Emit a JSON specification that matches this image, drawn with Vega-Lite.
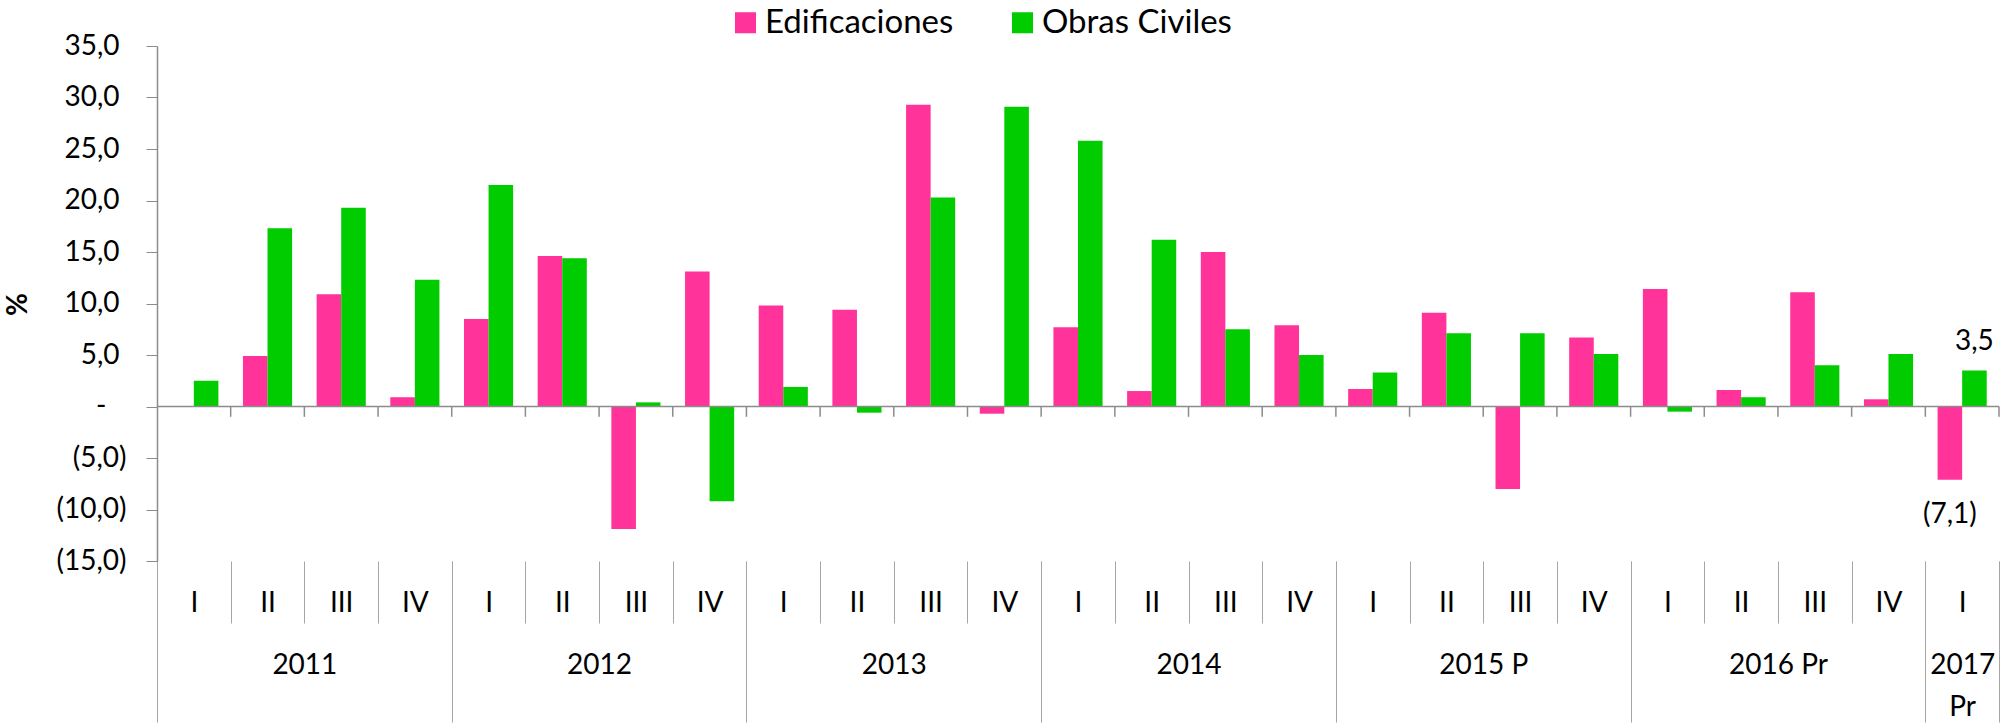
{
  "$schema": "https://vega.github.io/schema/vega-lite/v6.json",
  "autosize": {"type": "none"},
  "padding": {"left": 157, "top": 46, "right": 2, "bottom": 167},
  "width": 1842,
  "height": 515,
  "config": {
    "view": {"stroke": null},
    "font": "Lato",
    "locale": {"number": {"decimal": ",", "thousands": ".", "grouping": [3], "currency": ["", ""]}},
    "axis": {"labelColor": "#000000", "titleColor": "#000000"}
  },
  "data": {"values": [
    {"periodo": "2011-I", "serie": "Edificaciones", "valor": 0.0},
    {"periodo": "2011-I", "serie": "Obras Civiles", "valor": 2.5},
    {"periodo": "2011-II", "serie": "Edificaciones", "valor": 4.9},
    {"periodo": "2011-II", "serie": "Obras Civiles", "valor": 17.3},
    {"periodo": "2011-III", "serie": "Edificaciones", "valor": 10.9},
    {"periodo": "2011-III", "serie": "Obras Civiles", "valor": 19.3},
    {"periodo": "2011-IV", "serie": "Edificaciones", "valor": 0.9},
    {"periodo": "2011-IV", "serie": "Obras Civiles", "valor": 12.3},
    {"periodo": "2012-I", "serie": "Edificaciones", "valor": 8.5},
    {"periodo": "2012-I", "serie": "Obras Civiles", "valor": 21.5},
    {"periodo": "2012-II", "serie": "Edificaciones", "valor": 14.6},
    {"periodo": "2012-II", "serie": "Obras Civiles", "valor": 14.4},
    {"periodo": "2012-III", "serie": "Edificaciones", "valor": -11.9},
    {"periodo": "2012-III", "serie": "Obras Civiles", "valor": 0.4},
    {"periodo": "2012-IV", "serie": "Edificaciones", "valor": 13.1},
    {"periodo": "2012-IV", "serie": "Obras Civiles", "valor": -9.2},
    {"periodo": "2013-I", "serie": "Edificaciones", "valor": 9.8},
    {"periodo": "2013-I", "serie": "Obras Civiles", "valor": 1.9},
    {"periodo": "2013-II", "serie": "Edificaciones", "valor": 9.4},
    {"periodo": "2013-II", "serie": "Obras Civiles", "valor": -0.6},
    {"periodo": "2013-III", "serie": "Edificaciones", "valor": 29.3},
    {"periodo": "2013-III", "serie": "Obras Civiles", "valor": 20.3},
    {"periodo": "2013-IV", "serie": "Edificaciones", "valor": -0.7},
    {"periodo": "2013-IV", "serie": "Obras Civiles", "valor": 29.1},
    {"periodo": "2014-I", "serie": "Edificaciones", "valor": 7.7},
    {"periodo": "2014-I", "serie": "Obras Civiles", "valor": 25.8},
    {"periodo": "2014-II", "serie": "Edificaciones", "valor": 1.5},
    {"periodo": "2014-II", "serie": "Obras Civiles", "valor": 16.2},
    {"periodo": "2014-III", "serie": "Edificaciones", "valor": 15.0},
    {"periodo": "2014-III", "serie": "Obras Civiles", "valor": 7.5},
    {"periodo": "2014-IV", "serie": "Edificaciones", "valor": 7.9},
    {"periodo": "2014-IV", "serie": "Obras Civiles", "valor": 5.0},
    {"periodo": "2015 P-I", "serie": "Edificaciones", "valor": 1.7},
    {"periodo": "2015 P-I", "serie": "Obras Civiles", "valor": 3.3},
    {"periodo": "2015 P-II", "serie": "Edificaciones", "valor": 9.1},
    {"periodo": "2015 P-II", "serie": "Obras Civiles", "valor": 7.1},
    {"periodo": "2015 P-III", "serie": "Edificaciones", "valor": -8.0},
    {"periodo": "2015 P-III", "serie": "Obras Civiles", "valor": 7.1},
    {"periodo": "2015 P-IV", "serie": "Edificaciones", "valor": 6.7},
    {"periodo": "2015 P-IV", "serie": "Obras Civiles", "valor": 5.1},
    {"periodo": "2016 Pr-I", "serie": "Edificaciones", "valor": 11.4},
    {"periodo": "2016 Pr-I", "serie": "Obras Civiles", "valor": -0.5},
    {"periodo": "2016 Pr-II", "serie": "Edificaciones", "valor": 1.6},
    {"periodo": "2016 Pr-II", "serie": "Obras Civiles", "valor": 0.9},
    {"periodo": "2016 Pr-III", "serie": "Edificaciones", "valor": 11.1},
    {"periodo": "2016 Pr-III", "serie": "Obras Civiles", "valor": 4.0},
    {"periodo": "2016 Pr-IV", "serie": "Edificaciones", "valor": 0.7},
    {"periodo": "2016 Pr-IV", "serie": "Obras Civiles", "valor": 5.1},
    {"periodo": "2017 Pr-I", "serie": "Edificaciones", "valor": -7.1},
    {"periodo": "2017 Pr-I", "serie": "Obras Civiles", "valor": 3.5}
  ]},
  "layer": [
    {
      "mark": {"type": "bar"},
      "encoding": {
        "x": {
          "field": "periodo", "type": "nominal", "sort": null,
          "scale": {"paddingInner": 0, "paddingOuter": 0},
          "axis": {
            "title": null, "orient": "bottom", "domain": false,
            "tickBand": "extent", "tickSize": 62, "tickColor": "#a6a6a6", "tickWidth": 1,
            "labelAngle": 0, "labelFontSize": 28, "labelBaseline": "middle", "labelPadding": -20,
            "labelOverlap": false,
            "labelExpr": "isValid(datum.value) ? split(datum.value, '-')[1] : ''"
          }
        },
        "xOffset": {
          "field": "serie", "type": "nominal", "sort": ["Edificaciones", "Obras Civiles"],
          "scale": {"paddingInner": 0, "paddingOuter": 0.5}
        },
        "y": {
          "field": "valor", "type": "quantitative",
          "scale": {"domain": [-15, 35], "nice": false, "zero": false},
          "axis": {
            "title": "%", "values": [-15, -10, -5, 0, 5, 10, 15, 20, 25, 30, 35],
            "grid": false, "format": "(.1f",
            "labelExpr": "datum.value === 0 ? '-' : datum.label",
            "labelFontSize": 28, "labelBaseline": "middle",
            "labelPadding": {"condition": [{"test": "datum.value > 0", "value": 27}, {"test": "datum.value === 0", "value": 40}], "value": 20},
            "tickSize": 11, "tickColor": "#8c8c8c", "domainColor": "#8c8c8c", "domainWidth": 1.5,
            "titleFontSize": 28, "titleFontWeight": "bold", "titleAngle": -90,
            "titleX": -139, "titleY": 258, "titleBaseline": "middle", "titleAlign": "center"
          }
        },
        "color": {
          "field": "serie", "type": "nominal",
          "scale": {"domain": ["Edificaciones", "Obras Civiles"], "range": ["#FF3399", "#00CC00"]},
          "legend": {
            "orient": "none", "legendX": 572, "legendY": -40, "direction": "horizontal",
            "title": null, "symbolType": "square", "symbolSize": 441, "symbolStrokeWidth": 0,
            "symbolOpacity": 1, "labelFontSize": 33, "labelOffset": 3, "columnPadding": 52,
            "padding": 0, "labelLimit": 500, "labelColor": "#000000"
          }
        }
      }
    },
    {
      "transform": [{"filter": "datum.periodo === '2011-I' && datum.serie === 'Edificaciones'"}],
      "mark": {"type": "rule", "color": "#8c8c8c", "strokeWidth": 1.5},
      "encoding": {"y": {"datum": 0}}
    },
    {
      "transform": [{"filter": "datum.serie === 'Edificaciones'"}],
      "mark": {"type": "rule", "color": "#8c8c8c", "strokeWidth": 1.5},
      "encoding": {
        "x": {
          "field": "periodo", "type": "nominal", "sort": null, "bandPosition": 1,
          "axis": {
            "title": null, "orient": "bottom", "domain": false,
            "tickBand": "extent", "tickSize": 161, "tickColor": "#a6a6a6", "tickWidth": 1,
            "tickOpacity": {"condition": {"test": "datum.extra || !isValid(datum.value) || indexof(datum.value, '-IV') >= 0 || datum.value === '2017 Pr-I'", "value": 1}, "value": 0},
            "labelAngle": 0, "labelFontSize": 28, "labelBaseline": "top", "labelPadding": -71,
            "labelLineHeight": 42, "labelOverlap": false,
            "labelOffset": {"condition": {"test": "datum.value === '2017 Pr-I'", "value": 0}, "value": 36.84},
            "labelExpr": "isValid(datum.value) ? (split(datum.value, '-')[1] === 'II' ? split(datum.value, '-')[0] : (datum.value === '2017 Pr-I' ? ['2017', 'Pr'] : '')) : ''"
          }
        },
        "y": {"datum": 0},
        "y2": {"datum": -1}
      }
    },
    {
      "transform": [{"filter": "datum.periodo === '2017 Pr-I' && datum.valor >= 0"}],
      "mark": {"type": "text", "fontSize": 28, "baseline": "middle", "dy": -28, "color": "#000000"},
      "encoding": {
        "x": {"field": "periodo", "type": "nominal", "sort": null, "axis": null},
        "xOffset": {"field": "serie", "type": "nominal", "sort": ["Edificaciones", "Obras Civiles"]},
        "y": {"field": "valor", "type": "quantitative"},
        "text": {"field": "valor", "type": "quantitative", "format": "(.1f"}
      }
    },
    {
      "transform": [{"filter": "datum.periodo === '2017 Pr-I' && datum.valor < 0"}],
      "mark": {"type": "text", "fontSize": 28, "baseline": "middle", "dy": 35, "color": "#000000"},
      "encoding": {
        "x": {"field": "periodo", "type": "nominal", "sort": null, "axis": null},
        "xOffset": {"field": "serie", "type": "nominal", "sort": ["Edificaciones", "Obras Civiles"]},
        "y": {"field": "valor", "type": "quantitative"},
        "text": {"field": "valor", "type": "quantitative", "format": "(.1f"}
      }
    }
  ],
  "resolve": {"axis": {"x": "independent"}}
}
